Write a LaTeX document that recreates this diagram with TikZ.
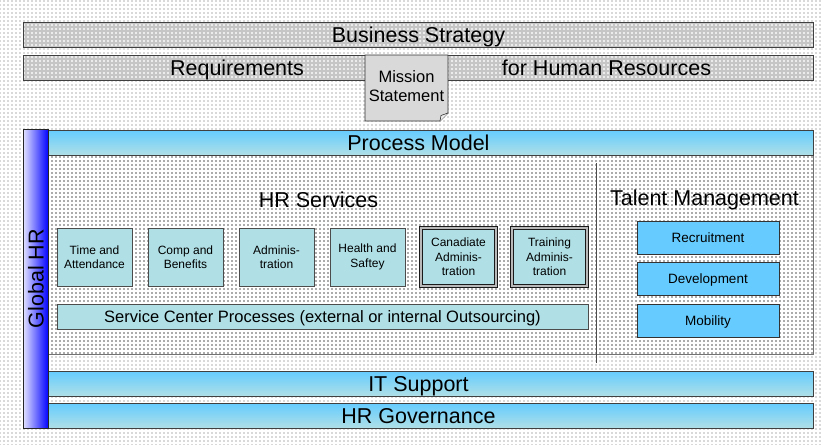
\documentclass[tikz,border=0pt]{standalone}
\usepackage{fontspec}
\setmainfont{Liberation Sans}
\usetikzlibrary{patterns,positioning}
\definecolor{skyblue}{HTML}{66CCFF}
\definecolor{powder}{HTML}{B0E0E6}

% coarse dot raster, 4pt apart
\pgfdeclarepatternformonly{raster}{\pgfqpoint{-1pt}{-1pt}}{\pgfqpoint{1pt}{1pt}}
  {\pgfqpoint{4pt}{4pt}}
  {\pgfpathrectangle{\pgfqpoint{-0.6pt}{-0.6pt}}{\pgfqpoint{1.2pt}{1.2pt}}\pgfusepath{fill}}

\begin{document}
\begin{tikzpicture}[x=1pt, y=-1pt,
  font=\fontsize{21.5}{24}\selectfont,
  band/.style={draw=black!75, line width=0.9pt, anchor=north west, inner sep=0pt,
    minimum width=790pt, minimum height=25pt, text height=15pt, text depth=0pt},
  greyband/.style={band, preaction={fill=gray!45}, pattern=raster, pattern color=white!85!gray},
  blueband/.style={band, top color=skyblue, bottom color=powder},
  svc/.style={draw=black!70, line width=0.8pt, fill=powder, anchor=north west,
    outer sep=0pt, minimum width=75pt, minimum height=58pt, align=center,
    inner sep=1pt, font=\fontsize{12}{14.5}\selectfont},
  svcdbl/.style={svc, draw=black!90, line width=1pt, double=gray!55, double distance=1.4pt},
  talent/.style={draw=black!80, line width=0.9pt, fill=skyblue, anchor=north west,
    outer sep=0pt, minimum width=142pt, minimum height=33pt, inner sep=0pt,
    font=\fontsize{13.5}{16}\selectfont, text height=9.7pt, text depth=0pt},
  caption/.style={inner sep=0pt, text height=15pt, text depth=0pt}
]
  \fill[white] (0,0) rectangle (823,445);
  \fill[pattern=raster, pattern color=gray!30] (0,0) rectangle (823,445);
  \useasboundingbox (0,0) rectangle (823,445);

  % strategy rows
  \node[greyband] (strat) at (23,22) {Business Strategy};
  \node[greyband] (req) at (23,55) {};
  \node[caption] (reqL) at (237,67.5) {Requirements};
  \node[caption] (reqR) at (606.5,67.5) {for Human Resources};

  \draw[black!80, line width=0.9pt, fill=gray!30]
    (365,55) -- (448,55) -- (448,113) -- (440,121) -- (365,121) -- cycle;
  \draw[black!80, line width=0.6pt, fill=gray!15] (448,113) -- (441,115.5) -- (440,121);
  \node[align=center, inner sep=0pt, font=\fontsize{16.5}{18.7}\selectfont]
    (mission) at (406.5,86) {Mission\\Statement};

  % process area
  \node[draw=black!55, line width=1pt, preaction={fill=white}, pattern=raster,
    pattern color=gray!65, anchor=north west, minimum width=765pt,
    minimum height=200pt, inner sep=0pt] (area) at (48,154) {};
  \node[blueband] (proc) at (23,130) {Process Model};

  \node[caption] (hrs) at (318.5,199.5) {HR Services};
  \node[caption] (tal) at (704.5,198) {Talent Management};

  \node[svc] (time) at (57,228) {Time and\\Attendance};
  \node[svc, right=16pt of time] (comp) {Comp and\\Benefits};
  \node[svc, right=16pt of comp] (admin) {Adminis-\\tration};
  \node[svc, right=16pt of admin] (health) {Health and\\Saftey};
  \node[svcdbl, right=16pt of health] (cand) {Canadiate\\Adminis-\\tration};
  \node[svcdbl, right=16pt of cand] (train) {Training\\Adminis-\\tration};
  \node[svc, minimum width=531pt, minimum height=25pt, inner sep=0pt,
    font=\fontsize{16.5}{19}\selectfont, text height=11.8pt, text depth=0pt]
    (scp) at (57,304) {Service Center Processes (external or internal Outsourcing)};

  \draw[black!70, line width=0.7pt] (596,163) -- (596,363);

  \node[talent] (recr) at (637,221) {Recruitment};
  \node[talent, below=8.5pt of recr] (dev) {Development};
  \node[talent, below=8.5pt of dev] (mob) {Mobility};

  % support rows
  \node[blueband] (its) at (23,371) {IT Support};
  \node[blueband] (gov) at (23,403) {HR Governance};

  \node[draw=black!85, line width=0.9pt, left color=blue!12, right color=blue,
    anchor=north west, minimum width=25pt, minimum height=299pt,
    inner sep=0pt] (glob) at (23,129) {};
  \node[caption, rotate=90] (globlbl) at (36,278.5) {Global HR};
\end{tikzpicture}
\end{document}
